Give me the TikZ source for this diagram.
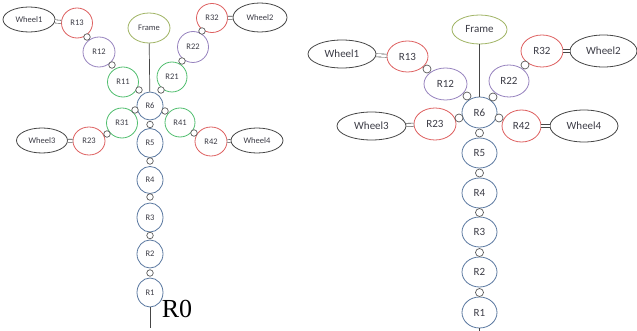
\documentclass[tikz,border=0pt]{standalone}
\usepackage{fontspec}
\setmainfont{Carlito}
\newfontfamily\timesfont{Liberation Serif}
\usetikzlibrary{shapes.geometric}

\definecolor{wheelgray}{RGB}{70,70,70}
\definecolor{linkred}{RGB}{222,96,96}
\definecolor{linkpurple}{RGB}{150,130,190}
\definecolor{linkgreen}{RGB}{80,190,110}
\definecolor{linkblue}{RGB}{90,120,160}
\definecolor{frameolive}{RGB}{160,180,100}
\definecolor{jointgray}{RGB}{90,90,90}
\definecolor{labelgray}{RGB}{60,60,70}

\begin{document}
\begin{tikzpicture}[x=1pt, y=-1pt,
        basenode/.style={ellipse, draw, fill=white, inner sep=0pt, line width=0.8pt, text=labelgray},
        wheelnode/.style={basenode, draw=wheelgray},
        framenode/.style={basenode, draw=frameolive},
        rednode/.style={basenode, draw=linkred},
        purplenode/.style={basenode, draw=linkpurple},
        greennode/.style={basenode, draw=linkgreen},
        bluenode/.style={basenode, draw=linkblue},
        jointnode/.style={circle, draw=jointgray, fill=white, line width=0.7pt, inner sep=0pt, minimum size=#1},
        axlelink/.style={draw=wheelgray, double=white, double distance=2.5pt, line width=0.6pt},
        sz/.style 2 args={minimum width=#1pt, minimum height=#2pt},
        small/.style={font=\fontsize{8.5}{9}\selectfont},
        large/.style={font=\fontsize{11}{12}\selectfont},
]
        \useasboundingbox (0,0) rectangle (637,331);

        % left tree
        \node[wheelnode, small, sz={52}{25}] (lW1) at (29,19.5) {Wheel1};
        \node[rednode, small, sz={31}{30}] (lR13) at (77,23) {R13};
        \node[purplenode, small, sz={32}{30}] (lR12) at (99,52) {R12};
        \node[greennode, small, sz={31}{30}] (lR11) at (123,82) {R11};
        \node[framenode, small, sz={42}{30}] (lF) at (149,28) {Frame};
        \node[bluenode, small, sz={26}{28}] (lR6) at (150,106) {R6};
        \node[greennode, small, sz={30}{30}] (lR21) at (172,77) {R21};
        \node[purplenode, small, sz={31}{31}] (lR22) at (193,47) {R22};
        \node[rednode, small, sz={31}{29}] (lR32) at (212,18) {R32};
        \node[wheelnode, small, sz={54}{29}] (lW2) at (260,17.5) {Wheel2};
        \node[greennode, small, sz={31}{30}] (lR31) at (122,123) {R31};
        \node[rednode, small, sz={32}{28}] (lR23) at (89,141) {R23};
        \node[wheelnode, small, sz={51}{25}] (lW3) at (42,140.5) {Wheel3};
        \node[greennode, small, sz={30}{29}] (lR41) at (180,122.5) {R41};
        \node[rednode, small, sz={32}{29}] (lR42) at (211,141.5) {R42};
        \node[wheelnode, small, sz={52}{25}] (lW4) at (257,140.5) {Wheel4};
        \node[bluenode, small, sz={26}{29}] (lR5) at (150,143) {R5};
        \node[bluenode, small, sz={26}{27}] (lR4) at (150,180) {R4};
        \node[bluenode, small, sz={26}{29}] (lR3) at (150,217.5) {R3};
        \node[bluenode, small, sz={26}{28}] (lR2) at (150,254) {R2};
        \node[bluenode, small, sz={26}{29}] (lR1) at (150,292.5) {R1};
        \coordinate (lbase) at (150,328);
        \node[font=\timesfont\fontsize{26}{26}\selectfont, inner sep=0pt] (lR0) at (177,309) {R0};

        \draw[wheelgray, line width=0.7pt] (lF) -- (lR6);
        \draw[wheelgray, line width=0.7pt] (lR1) -- (lbase);
        \draw[axlelink] (lW1) -- (lR13);
        \draw[axlelink] (lR32) -- (lW2);
        \draw[axlelink] (lW3) -- (lR23);
        \draw[axlelink] (lR42) -- (lW4);

        \foreach \jx/\jy [count=\i] in {87/37, 112/65, 139/90, 161/90, 182/61, 202/31, 135/110, 107/134,
                165/111, 194/133, 150/124.5, 150/161, 150/197, 150/235.5, 150/273}
                \node[jointnode=6.5pt] (lJ\i) at (\jx,\jy) {};

        % right tree
        \node[wheelnode, large, sz={68}{28}] (rW1) at (342,54) {Wheel1};
        \node[rednode, large, sz={41}{31}] (rR13) at (407.5,56.5) {R13};
        \node[purplenode, large, sz={43}{32}] (rR12) at (445.5,84) {R12};
        \node[framenode, large, sz={55}{29}] (rF) at (479.5,29.5) {Frame};
        \node[bluenode, large, sz={35}{31}] (rR6) at (479.5,112.5) {R6};
        \node[purplenode, large, sz={40}{32}] (rR22) at (509,81) {R22};
        \node[rednode, large, sz={42}{32}] (rR32) at (542,51) {R32};
        \node[wheelnode, large, sz={67}{32}] (rW2) at (603.5,51) {Wheel2};
        \node[rednode, large, sz={42}{32}] (rR23) at (435,124) {R23};
        \node[wheelnode, large, sz={69}{28}] (rW3) at (371.5,126) {Wheel3};
        \node[rednode, large, sz={39}{32}] (rR42) at (521.5,126) {R42};
        \node[wheelnode, large, sz={68}{32}] (rW4) at (584,126) {Wheel4};
        \node[bluenode, large, sz={35}{30}] (rR5) at (479.5,153) {R5};
        \node[bluenode, large, sz={35}{30}] (rR4) at (479.5,193) {R4};
        \node[bluenode, large, sz={35}{30}] (rR3) at (479.5,232) {R3};
        \node[bluenode, large, sz={35}{30}] (rR2) at (479.5,272) {R2};
        \node[bluenode, large, sz={35}{31}] (rR1) at (479.5,312.5) {R1};
        \coordinate (rbase) at (479.5,331);

        \draw[wheelgray, line width=0.7pt] (rF) -- (rR6);
        \draw[wheelgray, line width=0.7pt] (rR1) -- (rbase);
        \draw[axlelink] (rW1) -- (rR13);
        \draw[axlelink] (rR32) -- (rW2);
        \draw[axlelink] (rW3) -- (rR23);
        \draw[axlelink] (rR42) -- (rW4);

        \foreach \jx/\jy [count=\i] in {427/69, 467/96, 493/97, 525/65, 459/118, 499/118,
                479.5/133, 479.5/173, 479.5/212.5, 479.5/252.5, 479.5/292.5}
                \node[jointnode=8pt] (rJ\i) at (\jx,\jy) {};
\end{tikzpicture}
\end{document}
